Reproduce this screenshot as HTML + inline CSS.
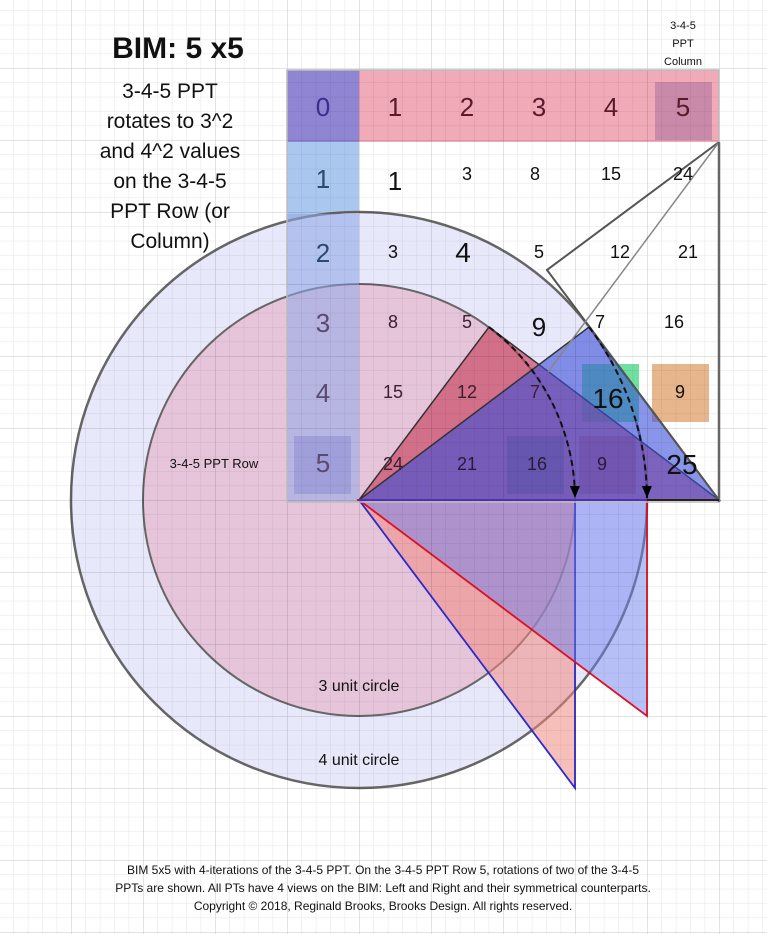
<!DOCTYPE html>
<html><head><meta charset="utf-8"><style>
body{margin:0;background:#fff}
svg{display:block}
text{font-family:"Liberation Sans","DejaVu Sans",sans-serif}
</style></head><body>
<svg width="767" height="934" viewBox="0 0 767 934" xmlns="http://www.w3.org/2000/svg">
<defs>
<pattern id="mi" x="13.4" y="10.4" width="14.4" height="14.4" patternUnits="userSpaceOnUse">
<path d="M0 0H14.4M0 0V14.4" stroke="#000" stroke-opacity="0.1" stroke-width="1" fill="none"/></pattern>
<pattern id="ma" x="71" y="68" width="72" height="72" patternUnits="userSpaceOnUse">
<path d="M0 0H72M0 0V72" stroke="#000" stroke-opacity="0.13" stroke-width="1" fill="none"/></pattern>
<marker id="ar" markerWidth="12" markerHeight="10" refX="12" refY="5" orient="auto" markerUnits="userSpaceOnUse"><path d="M0 0L12 5L0 10Z" fill="#000"/></marker>
</defs>
<rect width="767" height="934" fill="#fff"/>
<rect x="287" y="70" width="72" height="72" fill="#8f85d3"/>
<rect x="359" y="70" width="360" height="72" fill="#f1aab8"/>
<rect x="655" y="82" width="57" height="58" fill="#c98aaa"/>
<rect x="287" y="142" width="72" height="360" fill="#aac8ef"/>
<circle cx="359" cy="500" r="288" fill="#e6e6fb" fill-opacity="0.9" stroke="#666" stroke-width="2.5"/>
<circle cx="359" cy="500" r="216" fill="#e6c3d9" fill-opacity="0.95" stroke="#666" stroke-width="2"/>
<rect x="287" y="214" width="72" height="288" fill="#90a8e6" fill-opacity="0.55"/>
<rect x="294" y="436" width="57" height="58" fill="#9a9ad8" fill-opacity="0.8"/>
<rect x="582" y="364" width="57" height="58" fill="#6fe0a0"/>
<rect x="652" y="364" width="57" height="58" fill="#e8b68c"/>
<rect x="507" y="436" width="57" height="58" fill="#6aa092"/>
<rect x="579" y="436" width="57" height="58" fill="#c29aa4"/>
<polygon points="359,500 489,327 719,500" fill="#c8405e" fill-opacity="0.65" stroke="#333" stroke-width="1.5"/>
<polygon points="359,500 589,327 719,500" fill="#3a4fd8" fill-opacity="0.6" stroke="#333" stroke-width="1.5"/>
<polyline points="719,142 547,270 719,500" fill="none" stroke="#555" stroke-width="2"/>
<line x1="719" y1="142" x2="548" y2="372" stroke="#888" stroke-width="1.5"/>
<polygon points="359,500 575,500 575,788" fill="#f08a80" fill-opacity="0.55" stroke="#2a2ad0" stroke-width="1.8"/>
<polygon points="359,500 647,500 647,716" fill="#7080f0" fill-opacity="0.5" stroke="#e01020" stroke-width="1.8"/>
<rect width="767" height="934" fill="url(#mi)"/>
<rect width="767" height="934" fill="url(#ma)"/>
<rect x="287" y="70" width="432" height="432" fill="none" stroke="#bbb" stroke-width="1.5"/>
<line x1="719" y1="142" x2="719" y2="502" stroke="#666" stroke-width="2.5"/>
<line x1="359" y1="500" x2="719" y2="500" stroke="#222" stroke-width="2"/>
<line x1="359" y1="500" x2="647" y2="500" stroke="#5030b0" stroke-width="2"/>
<path d="M489 327 A216 216 0 0 1 575 498" fill="none" stroke="#111" stroke-width="2" stroke-dasharray="6,4" marker-end="url(#ar)"/>
<path d="M589 327 A288 288 0 0 1 647 498" fill="none" stroke="#111" stroke-width="2" stroke-dasharray="6,4" marker-end="url(#ar)"/>
<g font-size="26" text-anchor="middle" fill="#5a1a2a">
<text x="323" y="116" fill="#3a2f8a">0</text>
<text x="395" y="116">1</text><text x="467" y="116">2</text><text x="539" y="116">3</text><text x="611" y="116">4</text><text x="683" y="116">5</text>
</g>
<g font-size="26" text-anchor="middle" fill="#2a4a70">
<text x="323" y="188">1</text><text x="323" y="262">2</text><text x="323" y="332" fill="#5a4a70">3</text><text x="323" y="402" fill="#5a4a70">4</text><text x="323" y="472" fill="#5a4a70">5</text>
</g>
<g font-size="18" text-anchor="middle" fill="#111">
<text x="395" y="190" font-size="26">1</text><text x="467" y="180">3</text><text x="535" y="180">8</text><text x="611" y="180">15</text><text x="683" y="180">24</text>
<text x="393" y="258">3</text><text x="463" y="262" font-size="28">4</text><text x="539" y="258">5</text><text x="620" y="258">12</text><text x="688" y="258">21</text>
<text x="393" y="328" fill="#3a2030">8</text><text x="467" y="328" fill="#3a2030">5</text><text x="539" y="336" font-size="26">9</text><text x="600" y="328">7</text><text x="674" y="328">16</text>
<text x="393" y="398" fill="#3a2030">15</text><text x="467" y="398" fill="#3a2030">12</text><text x="535" y="398" fill="#3a2030">7</text><text x="608" y="408" font-size="28">16</text><text x="680" y="398">9</text>
<text x="393" y="470" fill="#3a2030">24</text><text x="467" y="470" fill="#2a1a3a">21</text><text x="537" y="470" fill="#2a1a3a">16</text><text x="602" y="470" fill="#2a1a3a">9</text><text x="682" y="474" font-size="28">25</text>
</g>
<text x="214" y="468" font-size="13" text-anchor="middle" fill="#111">3-4-5 PPT Row</text>
<g font-size="11" text-anchor="middle" fill="#111"><text x="683" y="29">3-4-5</text><text x="683" y="47">PPT</text><text x="683" y="65">Column</text></g>
<text x="359" y="691" font-size="16" text-anchor="middle" fill="#111">3 unit circle</text>
<text x="359" y="765" font-size="16" text-anchor="middle" fill="#111">4 unit circle</text>
<text x="178" y="58" font-size="30" font-weight="bold" text-anchor="middle" fill="#111">BIM: 5 x5</text>
<g font-size="21" text-anchor="middle" fill="#111">
<text x="170" y="98">3-4-5 PPT</text><text x="170" y="128">rotates to 3^2</text><text x="170" y="158">and 4^2 values</text><text x="170" y="188">on the 3-4-5</text><text x="170" y="218">PPT Row (or</text><text x="170" y="248">Column)</text>
</g>
<g font-size="12" text-anchor="middle" fill="#111">
<text x="383" y="874">BIM 5x5 with 4-iterations of the 3-4-5 PPT. On the 3-4-5 PPT Row 5, rotations of two of the 3-4-5</text>
<text x="383" y="892">PPTs are shown. All PTs have 4 views on the BIM: Left and Right and their symmetrical counterparts.</text>
<text x="383" y="910">Copyright © 2018, Reginald Brooks, Brooks Design. All rights reserved.</text>
</g>
</svg>
</body></html>
